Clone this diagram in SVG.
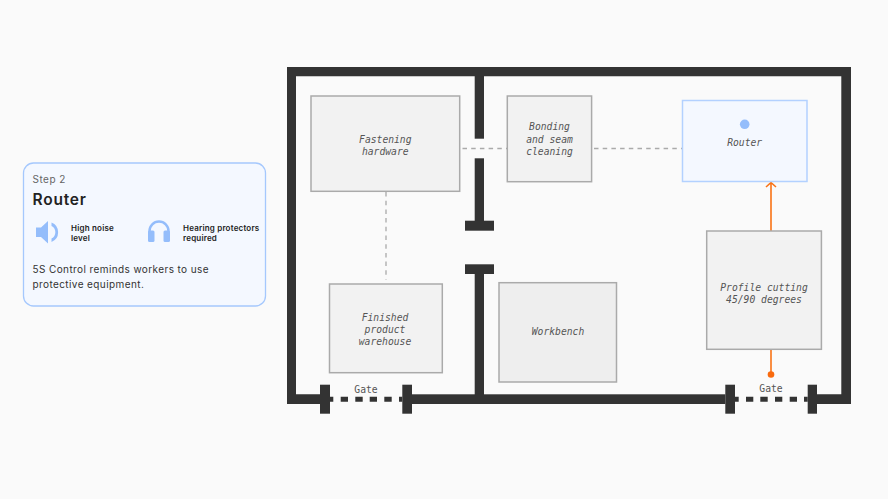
<svg xmlns="http://www.w3.org/2000/svg" width="888" height="499" viewBox="0 0 888 499">
<style>
.wall{fill:#333}
.box{fill:#f2f2f2;stroke:#aaa;stroke-width:1.5}
.lbl{font-family:"DejaVu Sans Mono",monospace;font-style:italic;font-size:9.7px;fill:#555;text-anchor:middle}
.gate{font-family:"DejaVu Sans Mono",monospace;font-size:9.7px;fill:#555;text-anchor:middle}
.dash{fill:none;stroke:#aaa;stroke-width:1.3;stroke-dasharray:4.500 4.200}
.or{fill:none;stroke:#f97316;stroke-width:1.600}
.ui{font-family:Inter,"Liberation Sans",sans-serif}
.small{font-size:8px;font-weight:600;fill:#222;letter-spacing:.2px}
.body{font-size:10px;fill:#333;letter-spacing:.4px}
</style>
<rect width="888" height="499" fill="#fafafa"/>
<g id="building">
<path class="wall" d="M287 67H851V404H817V394.300H841.300V76.300H296V394.300H320V404H287Z"/>
<rect class="wall" x="412" y="394.300" width="313.300" height="9.700"/>
<rect class="wall" x="474.700" y="76" width="9.300" height="62.700"/>
<rect class="wall" x="474.700" y="158.300" width="9.300" height="65"/>
<rect class="wall" x="465" y="220.700" width="29" height="10"/>
<rect class="wall" x="465" y="264.300" width="29" height="9.700"/>
<rect class="wall" x="474.700" y="272" width="9.300" height="124"/>
</g>
<g id="gate-left">
<rect class="wall" x="320" y="384.700" width="10" height="29"/>
<rect class="wall" x="402.300" y="384.700" width="9.700" height="29"/>
<path class="wall" d="M330 396.700h3.300v5h-3.300zM340.700 396.700h7.300v5h-7.300zM355.300 396.700h7.400v5h-7.400zM369.700 396.700h7.300v5h-7.300zM384.300 396.700h7.400v5h-7.400zM399 396.700h3.300v5h-3.300z"/>
<text class="gate" x="366" y="393">Gate</text>
</g>
<g id="gate-right">
<rect class="wall" x="725.300" y="384.700" width="9.700" height="29"/>
<rect class="wall" x="807.700" y="384.700" width="9.300" height="29"/>
<path class="wall" d="M735 396.700h3.700v5h-3.700zM746 396.700h7.300v5h-7.300zM760.300 396.700h7.400v5h-7.400zM775 396.700h7.300v5h-7.300zM789.700 396.700h7.300v5h-7.300zM804 396.700h3.700v5h-3.700z"/>
<text class="gate" x="771" y="392">Gate</text>
</g>
<g id="connectors">
<path class="dash" d="M462.500 148.500H507"/>
<path class="dash" d="M594 148.500H682"/>
<path class="dash" d="M386 192V279.500"/>
<path class="or" d="M771 231V183M766 187L771 182.500L776 187"/>
<path class="or" d="M771 349.500V374"/>
<circle cx="771" cy="374.500" r="3.300" fill="#f96a0e"/>
</g>
<g id="fastening-hardware">
<rect class="box" x="311" y="96" width="148.700" height="95.300"/>
<text class="lbl" x="385.300" y="143">Fastening</text>
<text class="lbl" x="385.300" y="155">hardware</text>
</g>
<g id="bonding">
<rect class="box" x="507.300" y="96" width="84.300" height="85.700"/>
<text class="lbl" x="549.500" y="130">Bonding</text>
<text class="lbl" x="549.500" y="142.500">and seam</text>
<text class="lbl" x="549.500" y="154.500">cleaning</text>
</g>
<g id="router">
<rect x="682.500" y="100.500" width="124.500" height="81" fill="#f4f8ff" stroke="#b3d1ff" stroke-width="1.500"/>
<circle cx="744.700" cy="124.300" r="4.800" fill="#94bdfb"/>
<text class="lbl" x="744.700" y="146">Router</text>
</g>
<g id="profile-cutting">
<rect class="box" x="706.700" y="231" width="114.700" height="118.300"/>
<text class="lbl" x="764" y="291">Profile cutting</text>
<text class="lbl" x="764" y="303">45/90 degrees</text>
</g>
<g id="finished-warehouse">
<rect class="box" x="329.500" y="284" width="112.800" height="88.700"/>
<text class="lbl" x="385" y="320.500">Finished</text>
<text class="lbl" x="385" y="332.500">product</text>
<text class="lbl" x="385" y="345">warehouse</text>
</g>
<g id="workbench">
<rect x="499" y="282.700" width="117.500" height="99.300" fill="#eee" stroke="#aaa" stroke-width="1.500"/>
<text class="lbl" x="558" y="335">Workbench</text>
</g>
<g id="panel">
<rect x="23.500" y="163" width="242" height="143" rx="10" fill="#f4f8ff" stroke="#a5c8fd" stroke-width="1.300"/>
<text class="ui" x="32.500" y="183" font-size="10" fill="#666" letter-spacing=".5">Step 2</text>
<text class="ui" x="32.500" y="204.500" font-size="15.500" font-weight="600" fill="#222" letter-spacing=".8">Router</text>
<path d="M36 227.500h5l7-6.500v22.500l-7-6.500h-5z" fill="#94bdfb"/>
<path d="M51.500 222.500a10.500 10.500 0 0 1 0 19.500v-3.500a7 7 0 0 0 0-12.500z" fill="#94bdfb"/>
<path d="M149.500 238v-7a9.500 9.500 0 0 1 19 0v7" fill="none" stroke="#94bdfb" stroke-width="2.500"/>
<rect x="148" y="230.500" width="6.500" height="11.500" rx="1.500" fill="#94bdfb"/>
<rect x="163.500" y="230.500" width="6.500" height="11.500" rx="1.500" fill="#94bdfb"/>
<text class="ui small" x="71" y="231">High noise</text>
<text class="ui small" x="71" y="240.500">level</text>
<text class="ui small" x="183" y="231">Hearing protectors</text>
<text class="ui small" x="183" y="240.500">required</text>
<text class="ui body" x="32.500" y="272.500">5S Control reminds workers to use</text>
<text class="ui body" x="32.500" y="287.500">protective equipment.</text>
</g>
</svg>
